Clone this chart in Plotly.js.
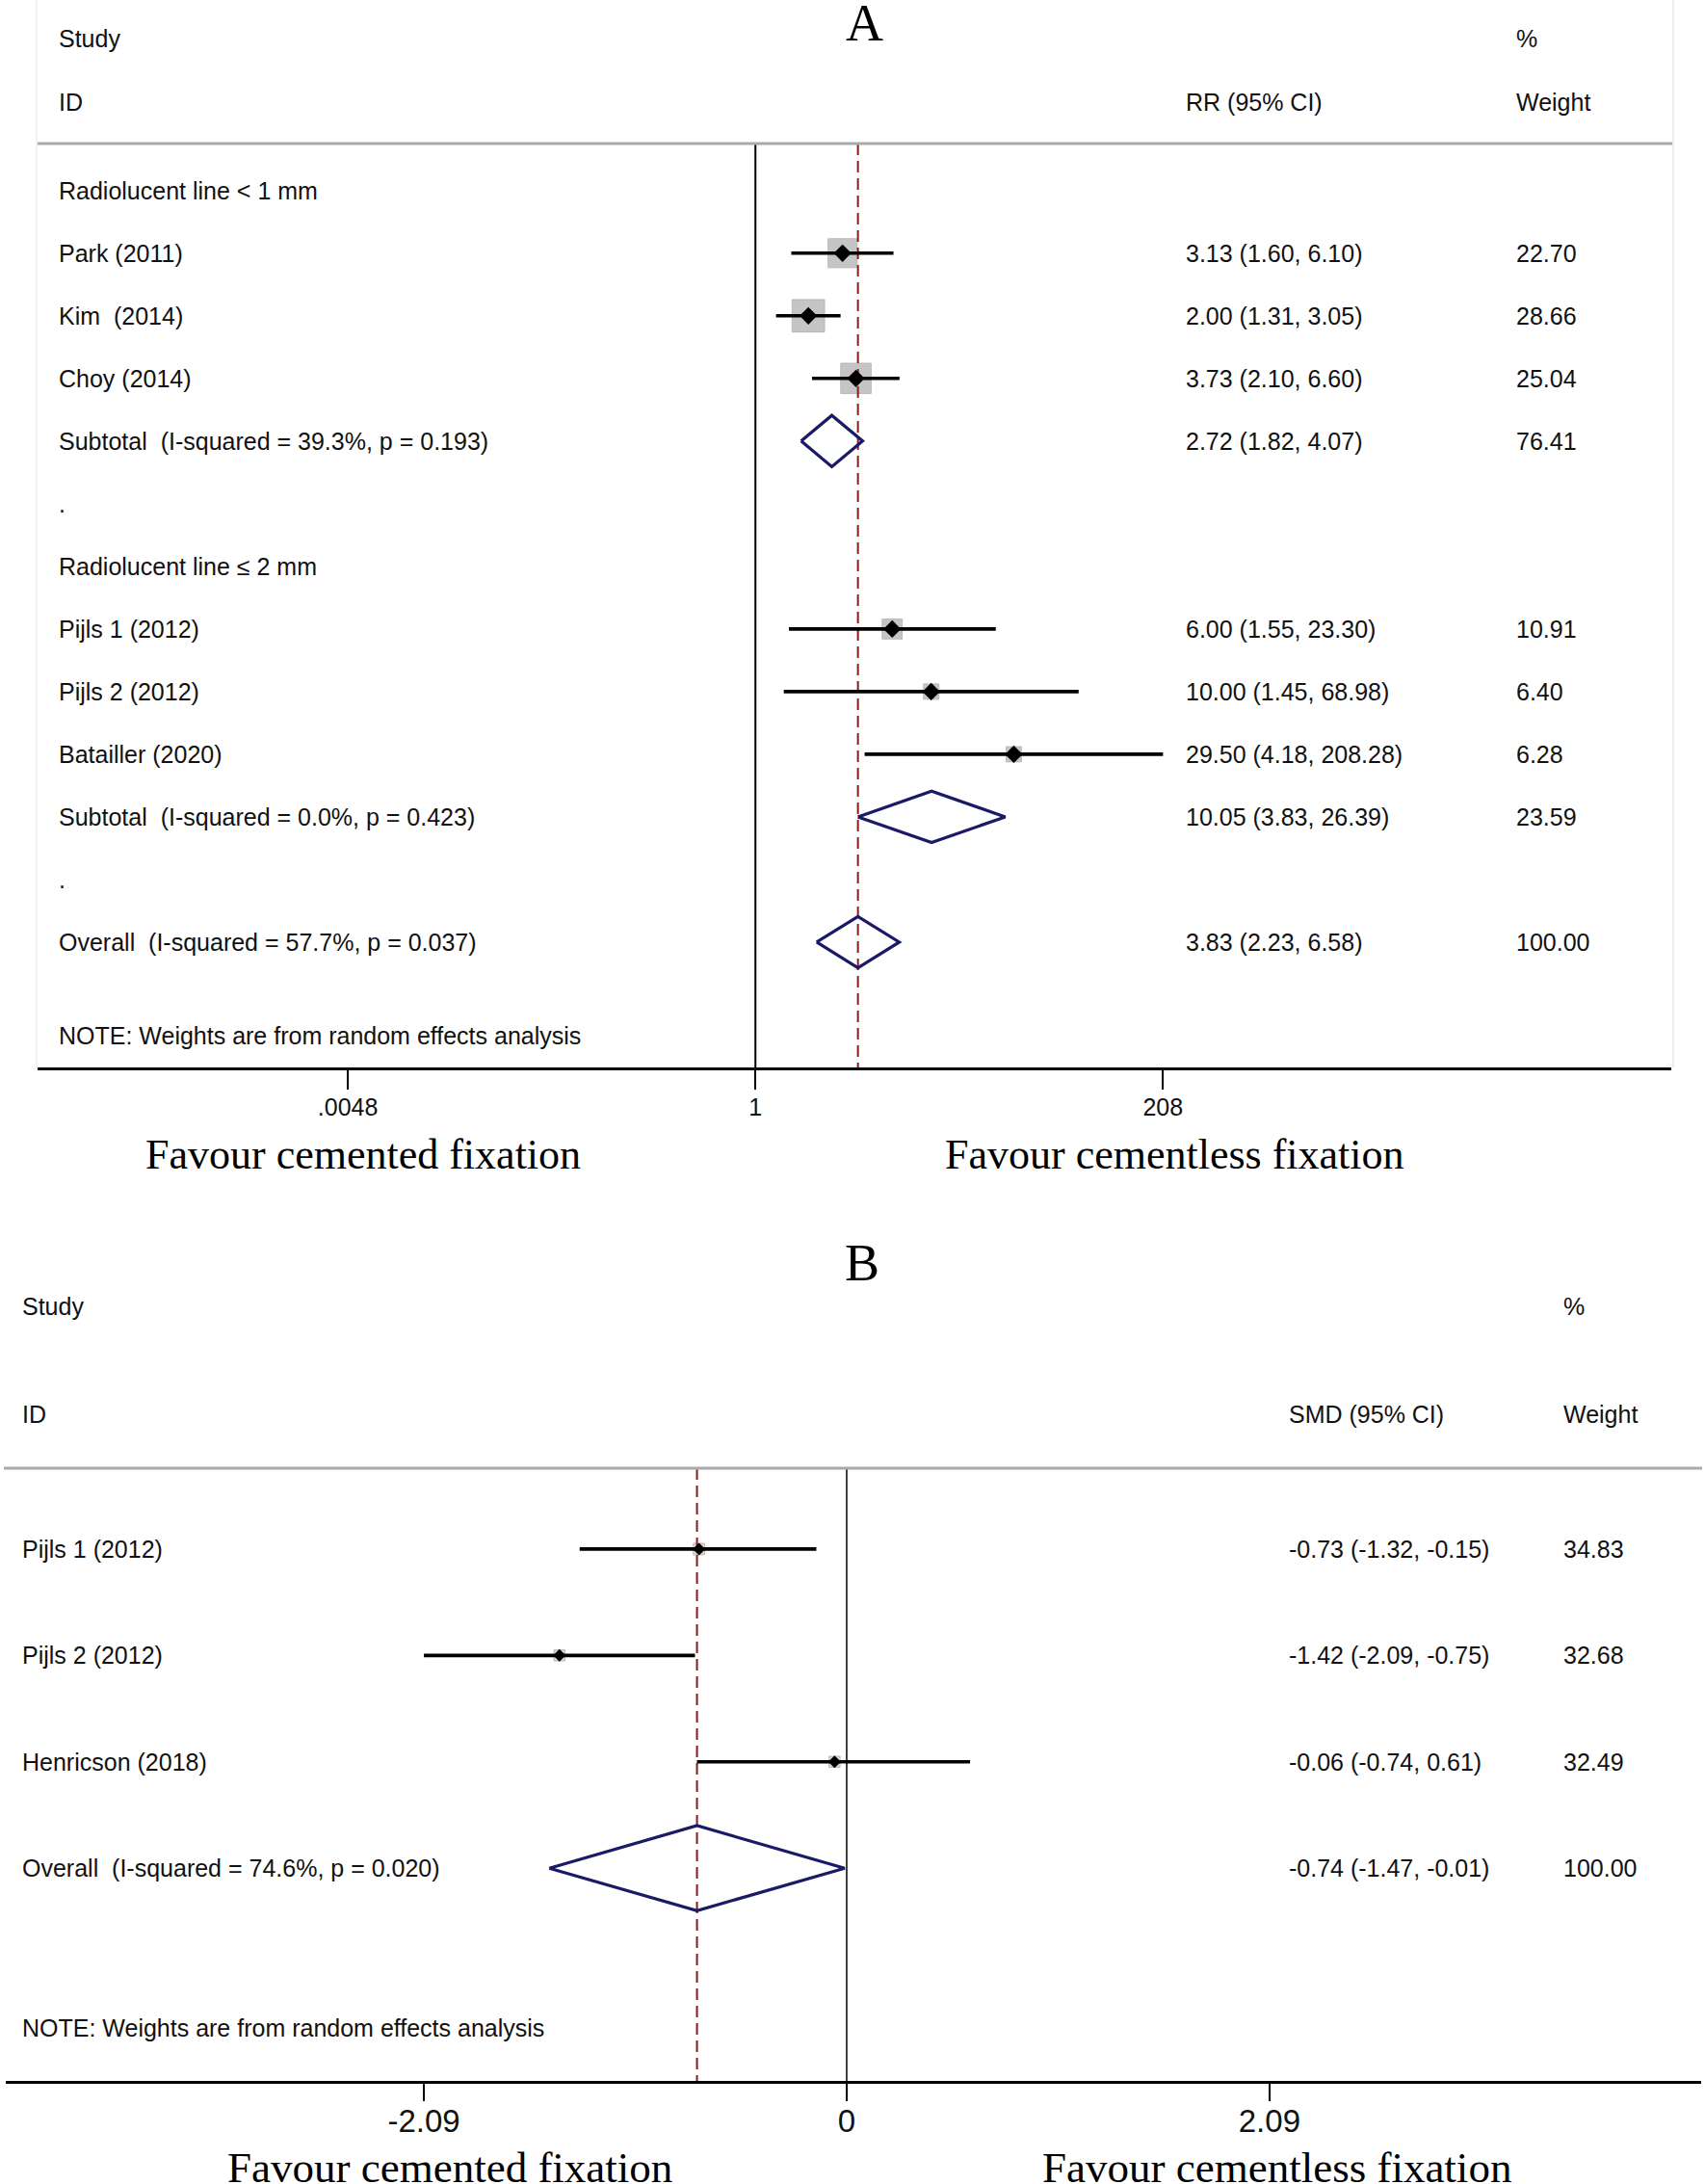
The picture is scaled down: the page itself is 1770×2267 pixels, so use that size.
<!DOCTYPE html>
<html><head><meta charset="utf-8">
<script src="https://cdn.plot.ly/plotly-3.0.1.min.js"></script>
<style>html,body{margin:0;padding:0;background:#fff;} #chart{width:1770px;height:2267px;}</style>
</head><body><div id="chart"></div>
<script>
// ---------- Panel A data (RR, log scale) ----------
const aGroups = ["Radiolucent line < 1 mm", "Radiolucent line \u2264 2 mm"];
const aStudies = ["Park (2011)", "Kim\u00A0 (2014)", "Choy (2014)", "Pijls 1 (2012)", "Pijls 2 (2012)", "Batailler (2020)"];
const aStudyGroup = [0, 0, 0, 1, 1, 1];
const aRR = [3.13, 2.00, 3.73, 6.00, 10.00, 29.50];
const aLo = [1.60, 1.31, 2.10, 1.55, 1.45, 4.18];
const aHi = [6.10, 3.05, 6.60, 23.30, 68.98, 208.28];
const aWeight = [22.70, 28.66, 25.04, 10.91, 6.40, 6.28];
const aSubLabels = ["Subtotal\u00A0 (I-squared = 39.3%, p = 0.193)", "Subtotal\u00A0 (I-squared = 0.0%, p = 0.423)"];
const aSubRR = [2.72, 10.05];
const aSubLo = [1.82, 3.83];
const aSubHi = [4.07, 26.39];
const aSubWeight = [76.41, 23.59];
const aOverallLabel = "Overall\u00A0 (I-squared = 57.7%, p = 0.037)";
const aOverallRR = 3.83, aOverallLo = 2.23, aOverallHi = 6.58, aOverallWeight = 100.00;
const aTickVals = [0.0048, 1, 208];
const aTickText = [".0048", "1", "208"];

// ---------- Panel B data (SMD, linear scale) ----------
const bStudies = ["Pijls 1 (2012)", "Pijls 2 (2012)", "Henricson (2018)"];
const bSMD = [-0.73, -1.42, -0.06];
const bLo = [-1.32, -2.09, -0.74];
const bHi = [-0.15, -0.75, 0.61];
const bWeight = [34.83, 32.68, 32.49];
const bOverallLabel = "Overall\u00A0 (I-squared = 74.6%, p = 0.020)";
const bOverallSMD = -0.74, bOverallLo = -1.47, bOverallHi = -0.01, bOverallWeight = 100.00;
const bTickVals = [-2.09, 0, 2.09];
const bTickText = ["-2.09", "0", "2.09"];

const NOTE = "NOTE: Weights are from random effects analysis";
const sideLbl = ["Favour cemented fixation", "Favour cementless fixation"];

// ---------- layout helpers ----------
const W = 1770, H = 2267;
const px = x => x / W;
const py = y => 1 - y / H;
const SANS = "Liberation Sans, Arial, sans-serif";
const SERIF = "Liberation Serif, Times New Roman, serif";
const NAVY = "#1a1a66", RED = "#8b1a1a", BOXC = "#adadad";
const f2 = v => v.toFixed(2);
const ciText = (e, l, h) => `${f2(e)} (${f2(l)}, ${f2(h)})`;

const traces = [], shapes = [], ann = [];
function txt(x, y, t, yref, size, opts) {
  ann.push(Object.assign({xref: 'paper', x: x, yref: yref, y: y, text: t, showarrow: false,
    xanchor: 'left', yanchor: 'middle', font: {family: SANS, size: size || 25, color: '#111'}}, opts || {}));
}

// ---------- Panel A rows ----------
const aRows = {hdr: [], study: [], sub: [], dots: []};
let r = 0;
aGroups.forEach((g, gi) => {
  aRows.hdr.push(r); r++;
  aStudies.forEach((s, i) => { if (aStudyGroup[i] === gi) { aRows.study[i] = r; r++; } });
  aRows.sub.push(r); r++;
  aRows.dots.push(r); r++;
});
const aOverallRow = r;
const aNoteRow = r + 1.5;
const aTop = -0.75, aBot = r + 2;

const AX = {l: 39, r: 1735}, AY = {t: 149, b: 1108};
const aColStudy = 59, aColCI = 1229, aColW = 1572;

// null line
traces.push({type: 'scatter', mode: 'lines', x: [1, 1], y: [aTop, aBot], xaxis: 'x', yaxis: 'y',
  line: {color: '#000', width: 2}, hoverinfo: 'skip'});
// boxes
traces.push({type: 'scatter', mode: 'markers', x: aRR, y: aRows.study, xaxis: 'x', yaxis: 'y',
  marker: {symbol: 'square', size: aWeight.map(w => 6.3 * Math.sqrt(w)), color: BOXC, line: {color: '#9c9c9c', width: 1}}, hoverinfo: 'skip'});
// overall dashed
traces.push({type: 'scatter', mode: 'lines', x: [aOverallRR, aOverallRR], y: [aTop, aBot], xaxis: 'x', yaxis: 'y',
  line: {color: RED, width: 2, dash: '12px,6px'}, hoverinfo: 'skip'});
// CIs
{
  const xs = [], ys = [];
  aRR.forEach((v, i) => { xs.push(aLo[i], aHi[i], null); ys.push(aRows.study[i], aRows.study[i], null); });
  traces.push({type: 'scatter', mode: 'lines', x: xs, y: ys, xaxis: 'x', yaxis: 'y', line: {color: '#000', width: 3.6}, hoverinfo: 'skip'});
}
traces.push({type: 'scatter', mode: 'markers', x: aRR, y: aRows.study, xaxis: 'x', yaxis: 'y',
  marker: {symbol: 'diamond', size: 14, color: '#000'}, hoverinfo: 'skip'});
function diamond(e, l, h, row, hh, xa, ya) {
  traces.push({type: 'scatter', mode: 'lines', x: [l, e, h, e, l], y: [row, row - hh, row, row + hh, row],
    xaxis: xa, yaxis: ya, line: {color: NAVY, width: 3.2}, hoverinfo: 'skip'});
}
aSubRR.forEach((v, i) => diamond(v, aSubLo[i], aSubHi[i], aRows.sub[i], 0.41, 'x', 'y'));
diamond(aOverallRR, aOverallLo, aOverallHi, aOverallRow, 0.41, 'x', 'y');

// A texts
aGroups.forEach((g, i) => txt(px(aColStudy), aRows.hdr[i], g, 'y'));
aStudies.forEach((s, i) => {
  txt(px(aColStudy), aRows.study[i], s, 'y');
  txt(px(aColCI), aRows.study[i], ciText(aRR[i], aLo[i], aHi[i]), 'y');
  txt(px(aColW), aRows.study[i], f2(aWeight[i]), 'y');
});
aSubLabels.forEach((s, i) => {
  txt(px(aColStudy), aRows.sub[i], s, 'y');
  txt(px(aColCI), aRows.sub[i], ciText(aSubRR[i], aSubLo[i], aSubHi[i]), 'y');
  txt(px(aColW), aRows.sub[i], f2(aSubWeight[i]), 'y');
});
aRows.dots.forEach(rw => txt(px(aColStudy), rw, ".", 'y'));
txt(px(aColStudy), aOverallRow, aOverallLabel, 'y');
txt(px(aColCI), aOverallRow, ciText(aOverallRR, aOverallLo, aOverallHi), 'y');
txt(px(aColW), aOverallRow, f2(aOverallWeight), 'y');
txt(px(aColStudy), aNoteRow, NOTE, 'y');
// headers
txt(px(aColStudy), py(40), "Study", 'paper');
txt(px(aColStudy), py(106), "ID", 'paper');
txt(px(aColCI), py(106), "RR (95% CI)", 'paper');
txt(px(aColW), py(40), "%", 'paper');
txt(px(aColW), py(106), "Weight", 'paper');
ann.push({xref: 'paper', yref: 'paper', x: px(897), y: py(24), text: "A", showarrow: false, xanchor: 'center', yanchor: 'middle', font: {family: SERIF, size: 54, color: '#000'}});
ann.push({xref: 'paper', yref: 'paper', x: px(377), y: py(1199), text: sideLbl[0], showarrow: false, xanchor: 'center', yanchor: 'middle', font: {family: SERIF, size: 44, color: '#000'}});
ann.push({xref: 'paper', yref: 'paper', x: px(1219), y: py(1199), text: sideLbl[1], showarrow: false, xanchor: 'center', yanchor: 'middle', font: {family: SERIF, size: 44, color: '#000'}});

shapes.push({type: 'line', xref: 'paper', yref: 'paper', x0: px(39), x1: px(1736), y0: py(149), y1: py(149), line: {color: '#aaaaaa', width: 3}});
shapes.push({type: 'line', xref: 'paper', yref: 'paper', x0: px(1737), x1: px(1737), y0: py(0), y1: py(1108), line: {color: '#e6eeee', width: 2}});
shapes.push({type: 'line', xref: 'paper', yref: 'paper', x0: px(38), x1: px(38), y0: py(0), y1: py(1108), line: {color: '#eef3f3', width: 2}});

// ---------- Panel B ----------
const bRows = bStudies.map((s, i) => i + 1);
const bOverallRow = bStudies.length + 1;
const bNoteRow = bOverallRow + 1.5;
const bTop = 0.24, bBot = bOverallRow + 2;
const BX = {l: 6, r: 1766}, BY = {t: 1524, b: 2160};
const bColStudy = 21, bColCI = 1336, bColW = 1621;

traces.push({type: 'scatter', mode: 'lines', x: [0, 0], y: [bTop, bBot], xaxis: 'x2', yaxis: 'y2',
  line: {color: '#000', width: 1.5}, hoverinfo: 'skip'});
traces.push({type: 'scatter', mode: 'markers', x: bSMD, y: bRows, xaxis: 'x2', yaxis: 'y2',
  marker: {symbol: 'square', size: bWeight.map(w => 2.0 * Math.sqrt(w)), color: '#c8c8c8', line: {color: '#9a9a9a', width: 1}}, hoverinfo: 'skip'});
traces.push({type: 'scatter', mode: 'lines', x: [bOverallSMD, bOverallSMD], y: [bTop, bBot], xaxis: 'x2', yaxis: 'y2',
  line: {color: RED, width: 2, dash: '12px,6px'}, hoverinfo: 'skip'});
{
  const xs = [], ys = [];
  bSMD.forEach((v, i) => { xs.push(bLo[i], bHi[i], null); ys.push(bRows[i], bRows[i], null); });
  traces.push({type: 'scatter', mode: 'lines', x: xs, y: ys, xaxis: 'x2', yaxis: 'y2', line: {color: '#000', width: 3.6}, hoverinfo: 'skip'});
}
traces.push({type: 'scatter', mode: 'markers', x: bSMD, y: bRows, xaxis: 'x2', yaxis: 'y2',
  marker: {symbol: 'diamond', size: 10, color: '#000'}, hoverinfo: 'skip'});
diamond(bOverallSMD, bOverallLo, bOverallHi, bOverallRow, 0.40, 'x2', 'y2');

bStudies.forEach((s, i) => {
  txt(px(bColStudy), bRows[i], s, 'y2');
  txt(px(bColCI), bRows[i], ciText(bSMD[i], bLo[i], bHi[i]), 'y2');
  txt(px(bColW), bRows[i], f2(bWeight[i]), 'y2');
});
txt(px(bColStudy), bOverallRow, bOverallLabel, 'y2');
txt(px(bColCI), bOverallRow, ciText(bOverallSMD, bOverallLo, bOverallHi), 'y2');
txt(px(bColW), bOverallRow, f2(bOverallWeight), 'y2');
txt(px(bColStudy), bNoteRow, NOTE, 'y2');
txt(px(bColStudy), py(1356), "Study", 'paper');
txt(px(bColStudy), py(1468), "ID", 'paper');
txt(px(bColCI), py(1468), "SMD (95% CI)", 'paper');
txt(px(bColW), py(1356), "%", 'paper');
txt(px(bColW), py(1468), "Weight", 'paper');
ann.push({xref: 'paper', yref: 'paper', x: px(895), y: py(1311), text: "B", showarrow: false, xanchor: 'center', yanchor: 'middle', font: {family: SERIF, size: 54, color: '#000'}});
ann.push({xref: 'paper', yref: 'paper', x: px(467), y: py(2250), text: sideLbl[0], showarrow: false, xanchor: 'center', yanchor: 'middle', font: {family: SERIF, size: 45, color: '#000'}});
ann.push({xref: 'paper', yref: 'paper', x: px(1325), y: py(2250), text: sideLbl[1], showarrow: false, xanchor: 'center', yanchor: 'middle', font: {family: SERIF, size: 45, color: '#000'}});
shapes.push({type: 'line', xref: 'paper', yref: 'paper', x0: px(4), x1: px(1767), y0: py(1524), y1: py(1524), line: {color: '#aaaaaa', width: 3}});

const layout = {
  width: W, height: H, margin: {l: 0, r: 0, t: 0, b: 0},
  paper_bgcolor: '#fff', plot_bgcolor: 'rgba(0,0,0,0)', showlegend: false, hovermode: false,
  xaxis: {type: 'log', domain: [px(AX.l), px(AX.r)], range: [Math.log10(0.0048) - 1.765, Math.log10(208) + 2.892],
    anchor: 'y', showgrid: false, zeroline: false, showline: true, linecolor: '#000', linewidth: 3,
    ticks: 'outside', ticklen: 20, tickwidth: 2, tickcolor: '#000', tickvals: aTickVals, ticktext: aTickText,
    tickfont: {family: SANS, size: 25, color: '#111'}, ticklabelstandoff: -3},
  yaxis: {domain: [py(AY.b), py(AY.t)], range: [aBot, aTop], anchor: 'x', visible: false},
  xaxis2: {domain: [px(BX.l), px(BX.r)], range: [-4.157, 4.224], anchor: 'y2',
    showgrid: false, zeroline: false, showline: true, linecolor: '#000', linewidth: 3,
    ticks: 'outside', ticklen: 18, tickwidth: 2, tickcolor: '#000', tickvals: bTickVals, ticktext: bTickText,
    tickfont: {family: SANS, size: 33, color: '#111'}, ticklabelstandoff: -8},
  yaxis2: {domain: [py(BY.b), py(BY.t)], range: [bBot, bTop], anchor: 'x2', visible: false},
  shapes: shapes, annotations: ann
};
Plotly.newPlot('chart', traces, layout, {staticPlot: true, displayModeBar: false});
</script>
</body></html>
